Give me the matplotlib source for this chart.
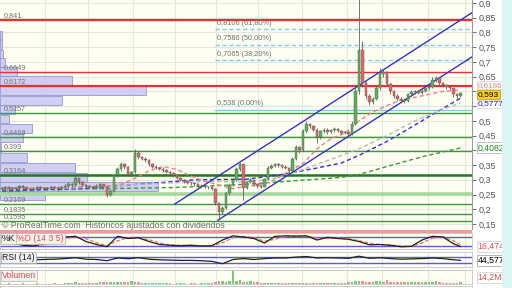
import numpy as np
import matplotlib
matplotlib.use("Agg")
import matplotlib.pyplot as plt
from matplotlib.patches import Rectangle
from matplotlib.transforms import blended_transform_factory

plt.rcParams['font.family'] = ['Liberation Sans', 'DejaVu Sans']

#Price data (daily candles, open = previous close)
open0 = 0.270
closes = [0.272, 0.275, 0.270, 0.268, 0.273, 0.278, 0.274, 0.270, 0.266, 0.270,
          0.276, 0.272, 0.269, 0.272, 0.275, 0.271, 0.268, 0.274, 0.280, 0.286,
          0.281, 0.305, 0.292, 0.283, 0.278, 0.276, 0.272, 0.280, 0.284, 0.275,
          0.248, 0.262, 0.315, 0.335, 0.352, 0.345, 0.318, 0.325, 0.392, 0.378,
          0.372, 0.368, 0.352, 0.345, 0.340, 0.338, 0.332, 0.328, 0.322, 0.315,
          0.306, 0.300, 0.295, 0.290, 0.288, 0.284, 0.280, 0.278, 0.276, 0.274,
          0.270, 0.222, 0.190, 0.205, 0.255, 0.282, 0.300, 0.335, 0.352, 0.272,
          0.292, 0.300, 0.285, 0.278, 0.276, 0.302, 0.340, 0.348, 0.352, 0.350,
          0.345, 0.340, 0.330, 0.372, 0.410, 0.400, 0.465, 0.490, 0.482, 0.470,
          0.445, 0.465, 0.470, 0.462, 0.468, 0.472, 0.466, 0.460, 0.462, 0.455,
          0.490, 0.600, 0.740, 0.630, 0.585, 0.565, 0.575, 0.610, 0.660, 0.665,
          0.625, 0.600, 0.585, 0.575, 0.570, 0.568, 0.590, 0.598, 0.600, 0.596,
          0.602, 0.610, 0.615, 0.640, 0.645, 0.628, 0.622, 0.615, 0.610, 0.590,
          0.585, 0.593]
highs = [0.276, 0.279, 0.278, 0.274, 0.277, 0.283, 0.281, 0.277, 0.273, 0.274,
         0.280, 0.279, 0.275, 0.276, 0.280, 0.278, 0.274, 0.279, 0.285, 0.292,
         0.290, 0.312, 0.307, 0.295, 0.286, 0.282, 0.279, 0.284, 0.290, 0.287,
         0.277, 0.268, 0.320, 0.342, 0.362, 0.356, 0.348, 0.330, 0.405, 0.398,
         0.382, 0.376, 0.370, 0.356, 0.350, 0.345, 0.342, 0.336, 0.331, 0.325,
         0.318, 0.310, 0.304, 0.299, 0.294, 0.292, 0.288, 0.285, 0.282, 0.280,
         0.278, 0.272, 0.225, 0.212, 0.260, 0.288, 0.306, 0.342, 0.362, 0.355,
         0.297, 0.306, 0.303, 0.289, 0.282, 0.307, 0.346, 0.354, 0.358, 0.356,
         0.354, 0.349, 0.343, 0.378, 0.418, 0.414, 0.472, 0.500, 0.494, 0.486,
         0.474, 0.470, 0.476, 0.474, 0.473, 0.478, 0.476, 0.470, 0.467, 0.466,
         0.498, 0.620, 0.930, 0.770, 0.635, 0.592, 0.582, 0.618, 0.680, 0.675,
         0.668, 0.630, 0.606, 0.590, 0.580, 0.576, 0.596, 0.605, 0.606, 0.604,
         0.608, 0.616, 0.622, 0.650, 0.652, 0.648, 0.632, 0.626, 0.618, 0.612,
         0.594, 0.598]
lows = [0.266, 0.268, 0.266, 0.263, 0.265, 0.270, 0.270, 0.266, 0.261, 0.262,
        0.267, 0.268, 0.265, 0.266, 0.269, 0.267, 0.263, 0.266, 0.271, 0.277,
        0.276, 0.279, 0.287, 0.279, 0.273, 0.271, 0.268, 0.269, 0.276, 0.270,
        0.240, 0.245, 0.260, 0.310, 0.330, 0.338, 0.312, 0.314, 0.322, 0.372,
        0.366, 0.362, 0.347, 0.340, 0.335, 0.333, 0.327, 0.323, 0.317, 0.310,
        0.301, 0.295, 0.290, 0.285, 0.283, 0.279, 0.275, 0.273, 0.271, 0.269,
        0.265, 0.215, 0.165, 0.184, 0.200, 0.250, 0.278, 0.296, 0.330, 0.232,
        0.268, 0.288, 0.280, 0.273, 0.271, 0.274, 0.300, 0.336, 0.344, 0.345,
        0.340, 0.335, 0.325, 0.328, 0.368, 0.392, 0.398, 0.460, 0.476, 0.465,
        0.425, 0.440, 0.460, 0.457, 0.458, 0.463, 0.461, 0.455, 0.455, 0.450,
        0.452, 0.486, 0.590, 0.615, 0.575, 0.555, 0.558, 0.570, 0.605, 0.650,
        0.618, 0.592, 0.578, 0.568, 0.562, 0.560, 0.565, 0.585, 0.592, 0.590,
        0.592, 0.598, 0.606, 0.612, 0.632, 0.622, 0.615, 0.608, 0.603, 0.582,
        0.578, 0.582]
volumes = [4, 3, 5, 2, 4, 3, 6, 3, 2, 4, 5, 3, 4, 2, 3, 5, 4, 3, 6,
           10, 8, 14, 9, 7, 6, 5, 8,
           12, 15, 18, 14, 16, 20, 22, 18, 15, 16, 24, 19, 14, 12, 10,
           8, 6, 7, 5, 6, 8, 5, 4, 6, 5, 7, 4, 5, 6, 4, 5, 7, 6, 8,
           22, 28, 25, 20, 24,
           120,
           30, 36, 22, 18, 25, 16, 14, 12,
           10, 12, 9, 8, 11, 7, 9, 8, 10, 12, 9, 8, 10, 11, 9, 8, 7, 9, 8, 10, 7, 8, 9, 11,
           16, 22, 30, 28, 25, 20, 18, 22, 26, 24, 20,
           40,
           18, 20, 16, 22, 19, 17, 21, 18, 20, 16, 19, 22, 18,
           32,
           14, 12, 10, 11, 9, 12, 14.2]

#Moving averages (candle index, value)
ma_red_idx = [0, 10, 20, 30, 34, 38, 42, 46, 50, 54, 58, 62, 66, 70, 74, 78, 82, 86, 90, 94, 98, 102, 106, 110, 114, 118, 122, 126, 131]
ma_red = [0.272, 0.272, 0.276, 0.278, 0.285, 0.305, 0.330, 0.345, 0.335, 0.312, 0.295, 0.282, 0.270, 0.278, 0.283,
          0.300, 0.330, 0.355, 0.405, 0.440, 0.458, 0.500, 0.530, 0.552, 0.570, 0.580, 0.590, 0.600, 0.605]
ma_grey_idx = [0, 20, 40, 60, 70, 78, 86, 94, 102, 110, 118, 126, 131]
ma_grey = [0.270, 0.272, 0.285, 0.295, 0.292, 0.305, 0.335, 0.370, 0.405, 0.450, 0.500, 0.540, 0.560]
ma_blue_idx = [0, 22, 45, 55, 70, 80, 90, 97, 102, 110, 120, 131]
ma_blue = [0.262, 0.270, 0.290, 0.300, 0.302, 0.318, 0.340, 0.357, 0.383, 0.430, 0.500, 0.577]
ma_green_idx = [0, 30, 50, 70, 85, 97, 102, 110, 120, 131]
ma_green = [0.268, 0.270, 0.274, 0.285, 0.298, 0.308, 0.318, 0.345, 0.378, 0.408]

#Trend channel (start/end index and price)
chan_low_x = [61.7, 134.3]
chan_low_y = [0.163, 0.717]
chan_up_x = [49.4, 134.3]
chan_up_y = [0.218, 0.867]

#Support / resistance levels
red_levels = [0.841, 0.6649, 0.6172]
green_levels = [0.5257, 0.4468, 0.399, 0.3164, 0.2527, 0.2169, 0.1835, 0.1595]
level_labels = {0.841: "0,841", 0.6649: "0,6649", 0.6172: "0,6172", 0.5257: "0,5257",
                0.4468: "0,4468", 0.399: "0,399", 0.3164: "0,3164", 0.2527: "0,2527",
                0.2169: "0,2169", 0.1835: "0,1835", 0.1595: "0,1595"}
fib_levels = [0.8106, 0.7586, 0.7065, 0.538]
fib_labels = ["0,8106 (61,80%)", "0,7586 (50,00%)", "0,7065 (38,20%)", "0,538 (0,00%)"]
fib_start = 61.0

#Volume profile by price
profile_prices = [0.791, 0.759, 0.727, 0.697, 0.668, 0.637, 0.602, 0.569, 0.538,
                  0.506, 0.474, 0.442, 0.409, 0.376, 0.342, 0.309, 0.276, 0.245]
profile_vol = [2, 2, 3, 5, 17, 72, 146, 62, 15, 9, 32, 23, 1, 27, 75, 87, 158, 45]

#Oscillators
osc_idx = [0, 3, 6, 9, 12, 15, 18, 21, 24, 27, 30, 33, 36, 39, 42, 45, 48, 51, 54, 57, 60, 63,
           66, 69, 72, 75, 78, 81, 84, 87, 90, 93, 96, 99, 102, 105, 108, 111, 114, 117, 120, 123, 126, 129, 131]
stoch_k = [55, 40, 25, 20, 35, 60, 80, 85, 50, 30, 15, 85, 70, 75, 50, 30, 25, 22, 25, 20, 22, 60,
           88, 80, 70, 40, 85, 88, 86, 88, 60, 78, 70, 65, 50, 28, 30, 25, 15, 18, 60, 85, 80, 35, 16.5]
stoch_d = [58, 48, 32, 24, 28, 45, 68, 82, 68, 42, 22, 55, 76, 72, 62, 40, 28, 24, 24, 22, 21, 42,
           75, 84, 76, 52, 65, 85, 87, 87, 72, 70, 74, 68, 56, 38, 30, 27, 20, 17, 40, 72, 82, 55, 28]
rsi = [50, 48, 46, 47, 50, 52, 56, 62, 52, 50, 42, 60, 55, 62, 52, 48, 46, 44, 44, 42, 38, 22,
       50, 56, 50, 56, 60, 60, 66, 70, 60, 62, 60, 58, 72, 58, 62, 56, 52, 54, 56, 60, 56, 48, 44.6]

#Right axis ticks (labels hidden by the value boxes are left blank)
tick_vals = [0.15, 0.2, 0.25, 0.3, 0.35, 0.4, 0.45, 0.5, 0.55, 0.6, 0.65, 0.7, 0.75, 0.8, 0.85, 0.9]
tick_labs = ["0,15", "0,2", "0,25", "0,3", "0,35", "", "0,45", "0,5", "", "", "0,65", "0,7",
             "0,75", "0,8", "0,85", "0,9"]

grid_idx = [12.3, 24.6, 37.4, 49.4, 61.1, 73.1, 85.7, 98.6, 108.6, 121.7, 132.3]

W, H = 512, 288
fig = plt.figure(figsize=(W / 100, H / 100), dpi=100)
fig.patch.set_facecolor('white')

def px_axes(x0, y0, x1, y1):
    return fig.add_axes([x0 / W, 1 - y1 / H, (x1 - x0) / W, (y1 - y0) / H])

xlim = (-0.571, 134.29)
bg = '#fffff4'
gridc = '#e6e6dc'
up_c, dn_c = '#5cb25c', '#e06a6a'

fig.patches.append(Rectangle((502 / W, 0), 10 / W, 1, transform=fig.transFigure,
                             facecolor='#dcf4f4', edgecolor='none', zorder=0))

#Main price panel
ax = px_axes(0, 0, 472, 229)
ax.set_facecolor(bg)
ax.set_xlim(*xlim)
ax.set_ylim(0.133, 0.910)
for g in grid_idx:
    ax.axvline(g, color=gridc, lw=0.8, zorder=0)
for t in tick_vals:
    ax.axhline(t, color=gridc, lw=0.8, zorder=0)

pscale = 1 / 3.5
ax.barh(profile_prices, np.array(profile_vol) * pscale, height=0.030, left=xlim[0],
        color='#cacaf2', edgecolor='#8e8ed0', lw=0.6, alpha=0.9, zorder=1)

for lv, lw in zip(red_levels, [1.6, 1.0, 1.6]):
    ax.axhline(lv, color='#e83030', lw=lw, zorder=2)
for lv in green_levels:
    if lv == 0.3164:
        ax.axhline(lv, color='#1f7a1f', lw=1.8, zorder=2)
    elif lv == 0.2527:
        ax.axhline(lv, color='#a8d8a0', lw=2.6, zorder=2)
    else:
        ax.axhline(lv, color='#3a9a3a', lw=1.0, zorder=2)
for lv, lab in level_labels.items():
    ax.text(0.5, lv + 0.003, lab, fontsize=5.2, color='#707070', va='bottom', ha='left', zorder=6)

for lv, lab in zip(fib_levels, fib_labels):
    ls = '-' if lv == 0.538 else (0, (3, 2))
    ax.plot([fib_start, xlim[1]], [lv, lv], color='#7ccaf0', lw=1.0, ls=ls, zorder=2)
    ax.text(fib_start + 0.5, lv + 0.008, lab, fontsize=5.3, color='#707070', va='bottom', zorder=6)

ax.plot(ma_green_idx, ma_green, color='#3a9a3a', lw=1.0, ls=(0, (3, 2)), zorder=3)
ax.plot(ma_blue_idx, ma_blue, color='#3030d8', lw=1.0, ls=(0, (3, 2)), zorder=3)
ax.plot(ma_grey_idx, ma_grey, color='#b8b8b8', lw=1.0, ls=(0, (3, 2)), zorder=3)
ax.plot(ma_red_idx, ma_red, color='#f08080', lw=1.0, ls=(0, (3, 2)), zorder=3)

ax.plot(chan_low_x, chan_low_y, color='#3434b8', lw=1.0, zorder=4)
ax.plot(chan_up_x, chan_up_y, color='#3434b8', lw=1.0, zorder=4)

closes_a = np.array(closes)
opens = np.concatenate([[open0], closes_a[:-1]])
idx = np.arange(len(closes_a))
is_up = closes_a >= opens
ax.vlines(idx, lows, highs, color='#606060', lw=0.6, zorder=4)
body_lo = np.minimum(opens, closes_a)
body_h = np.maximum(np.abs(closes_a - opens), 0.002)
ax.bar(idx, body_h, bottom=body_lo, width=0.62,
       color=np.where(is_up, up_c, dn_c), edgecolor='#555555', lw=0.3, zorder=5)

ax.yaxis.tick_right()
ax.set_yticks(tick_vals)
ax.set_yticklabels(tick_labs)
ax.tick_params(axis='y', labelsize=6.5, length=3, width=0.6, colors='#555555', pad=1.5)
ax.set_xticks([])
for s in ['top', 'left', 'bottom']:
    ax.spines[s].set_visible(False)
ax.spines['right'].set_color('#9a9a9a')

tr = blended_transform_factory(ax.transAxes, ax.transData)
box = dict(boxstyle='square,pad=0.1', fc='white', ec='#cccccc', lw=0.5)
ax.text(1.012, 0.621, "0,6186", transform=tr, fontsize=5.8, color='#f08080', va='center',
        bbox=box, zorder=7)
ax.text(1.012, 0.589, "0,593", transform=tr, fontsize=6, color='black', va='center',
        bbox=dict(boxstyle='square,pad=0.1', fc='#ffd21f', ec='#b89a00', lw=0.5), zorder=8)
ax.text(1.012, 0.557, "0,5777", transform=tr, fontsize=6, color='#2020d0', va='center',
        bbox=box, zorder=7)
ax.text(1.012, 0.4082, "0,4082", transform=tr, fontsize=6.3, color='#1f8a1f', va='center',
        bbox=dict(boxstyle='square,pad=0.12', fc='white', ec='#aaaaaa', lw=0.5), zorder=7)

fig.text(2 / W, 1 - 226 / H, "© ProRealTime.com  Históricos ajustados con dividendos",
         fontsize=6.3, color='#707070', va='center')
fig.patches.append(Rectangle((0, 1 - 232.5 / H), 472 / W, 3 / H, transform=fig.transFigure,
                             facecolor='#f29a9a', edgecolor='none', zorder=5))

def sub_panel(y0, y1, ylim):
    a = px_axes(0, y0, 472, y1)
    a.set_facecolor(bg)
    a.set_xlim(*xlim)
    a.set_ylim(*ylim)
    for g in grid_idx:
        a.axvline(g, color=gridc, lw=0.8, zorder=0)
    a.set_xticks([])
    a.set_yticks([])
    for s in a.spines.values():
        s.set_color('#c4c4c4')
        s.set_linewidth(0.6)
    return a

def tag(a, x, txt, color):
    a.text(x, 0.93, txt, transform=a.transAxes, fontsize=6.3, color=color, va='top', ha='left',
           bbox=dict(boxstyle='square,pad=0.15', fc='#f2f2f2', ec='#b0b0b0', lw=0.5), zorder=6)

#Stochastic
axs = sub_panel(233, 249, (0, 107))
axs.axhline(80, color='#5a5ae0', lw=1.0)
axs.axhline(20, color='#5a5ae0', lw=1.0)
axs.plot(osc_idx, stoch_d, color='#f07070', lw=0.9, ls=(0, (3, 1.5)))
axs.plot(osc_idx, stoch_k, color='#202020', lw=0.9)
tag(axs, 0.004, "%K", '#202020')
tag(axs, 0.036, "%D (14 3 5)", '#e05050')
axs.text(1.012, stoch_k[-1], "16,474", transform=blended_transform_factory(axs.transAxes, axs.transData),
         fontsize=6.3, color='#e05050', va='center', clip_on=False,
         bbox=dict(boxstyle='square,pad=0.12', fc='white', ec='#cccccc', lw=0.5))

#RSI
axr = sub_panel(252, 267, (0, 100))
axr.axhline(70, color='#5a5ae0', lw=1.0)
axr.axhline(30, color='#5a5ae0', lw=1.0)
axr.plot(osc_idx, rsi, color='#202020', lw=0.9)
tag(axr, 0.004, "RSI (14)", '#202020')
axr.text(1.012, rsi[-1], "44,577", transform=blended_transform_factory(axr.transAxes, axr.transData),
         fontsize=6.3, color='black', va='center', clip_on=False,
         bbox=dict(boxstyle='square,pad=0.12', fc='white', ec='#999999', lw=0.5))

#Volume
axv = sub_panel(270, 284, (0, 128))
axv.bar(idx, volumes, width=0.6, color=np.where(is_up, '#7cc87c', '#f09090'), lw=0)
tag(axv, 0.004, "Volumen", '#e05050')
axv.text(1.012, 0.45, "14,2M", transform=axv.transAxes, fontsize=6.3, color='#e05050', va='center',
         bbox=dict(boxstyle='square,pad=0.12', fc='white', ec='#cccccc', lw=0.5))

axb = sub_panel(286, 292, (0, 1))

fig.savefig("out.png", dpi=100, facecolor=fig.get_facecolor())
